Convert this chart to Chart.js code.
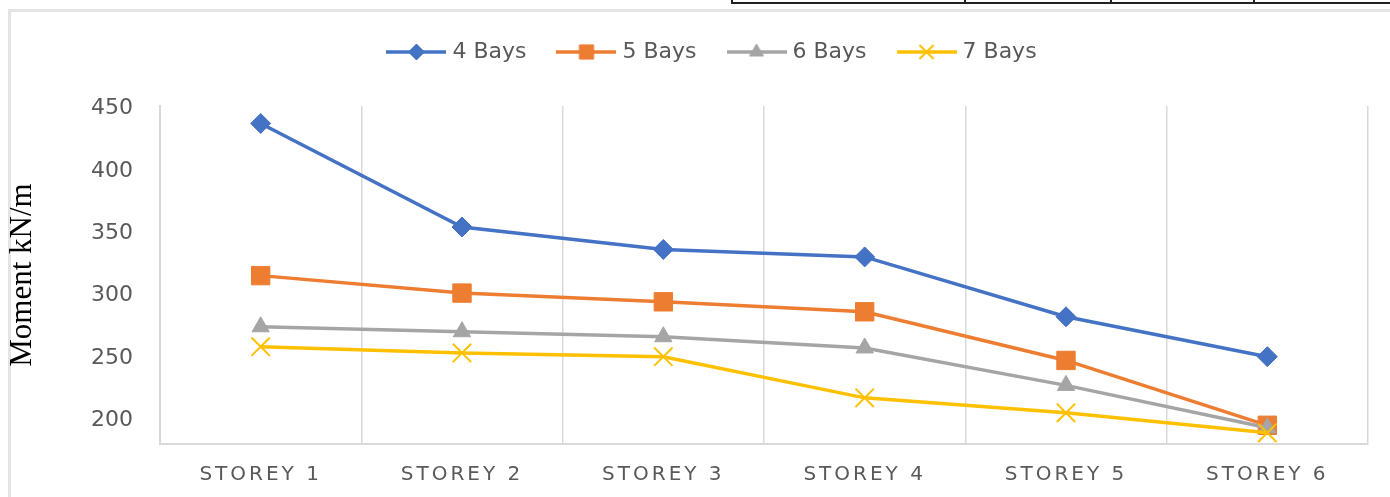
<!DOCTYPE html>
<html>
<head>
<meta charset="utf-8">
<script src="https://cdn.jsdelivr.net/npm/chart.js@4"></script>
<style>
  html, body { margin: 0; padding: 0; background: #fff; }
  #wrap { position: relative; width: 1390px; height: 497px; overflow: hidden; }
  #chartBox { position: absolute; left: 0; top: 0; width: 1390px; height: 497px; }
  .frameTop { position: absolute; left: 8px; top: 9px; width: 1382px; height: 3px; background: #e4e4e4; }
  .frameLeft { position: absolute; left: 8px; top: 9px; width: 3px; height: 488px; background: #e4e4e4; }
  .tableLine { position: absolute; left: 731px; top: 2px; width: 659px; height: 2px; background: #222; }
  .tableTick { position: absolute; top: 0; width: 2px; height: 4px; background: #222; }
</style>
</head>
<body>
<div id="wrap">
  <div class="tableLine"></div>
  <div class="tableTick" style="left:731px"></div>
  <div class="tableTick" style="left:964px"></div>
  <div class="tableTick" style="left:1110px"></div>
  <div class="tableTick" style="left:1253px"></div>
  <div class="frameTop"></div>
  <div class="frameLeft"></div>
  <div id="chartBox"><canvas id="momentChart"></canvas></div>
</div>
<script>
const storeys = ['STOREY 1', 'STOREY 2', 'STOREY 3', 'STOREY 4', 'STOREY 5', 'STOREY 6'];
const bays4 = [438, 355, 337, 331, 283, 251];
const bays5 = [316, 302, 295, 287, 248, 196];
const bays6 = [275, 271, 267, 258, 228, 194];
const bays7 = [259, 254, 251, 218, 206, 190];
const yTicks = [200, 250, 300, 350, 400, 450];

const TEXT = '#595959';
const GRID = '#d9d9d9';

const series = [
  { label: '4 Bays', data: bays4, color: '#4472C4', style: 'rectRot', radius: 10, legendRadius: 8, border: 1 },
  { label: '5 Bays', data: bays5, color: '#ED7D31', style: 'rect', radius: 13, legendRadius: 10, border: 1 },
  { label: '6 Bays', data: bays6, color: '#A5A5A5', style: 'triangle', radius: 10, legendRadius: 8, border: 1 },
  { label: '7 Bays', data: bays7, color: '#FFC000', style: 'crossRot', radius: 13, legendRadius: 10, border: 2 }
];

// legend swatch: short line with the marker in the middle
function makeIcon(s) {
  const c = document.createElement('canvas');
  c.width = 60;
  c.height = 24;
  const g = c.getContext('2d');
  g.strokeStyle = s.color;
  g.fillStyle = s.color;
  g.lineWidth = 3.5;
  g.beginPath();
  g.moveTo(0, 12);
  g.lineTo(60, 12);
  g.stroke();
  g.lineWidth = s.border;
  Chart.helpers.drawPoint(g, { pointStyle: s.style, radius: s.legendRadius, borderWidth: s.border, rotation: 0 }, 30, 12);
  return c;
}
const icons = series.map(makeIcon);

const legendBand = 100;

const spacingPlugin = {
  id: 'spacing',
  beforeLayout(chart) {
    const lg = chart.legend;
    if (lg && !lg._bandFit) {
      const fit = lg.fit.bind(lg);
      lg.fit = () => { fit(); lg.height = legendBand; };
      lg._bandFit = true;
    }
  },
  beforeDraw(chart) {
    const x = chart.scales.x;
    if (x && !x._spaced) {
      const draw = x.drawLabels.bind(x);
      x.drawLabels = (area) => {
        const ctx = x.ctx;
        ctx.save();
        ctx.letterSpacing = '3px';
        draw(area);
        ctx.restore();
      };
      x._spaced = true;
    }
  }
};

const ctx = document.getElementById('momentChart').getContext('2d');
new Chart(ctx, {
  type: 'line',
  data: {
    labels: storeys,
    datasets: series.map((s, i) => ({
      label: s.label,
      data: s.data,
      borderColor: s.color,
      backgroundColor: s.color,
      borderWidth: 3.5,
      pointStyle: s.style,
      pointRadius: s.radius,
      pointHoverRadius: s.radius,
      pointBorderWidth: s.border,
      pointBackgroundColor: s.color,
      pointBorderColor: s.color,
      tension: 0,
      fill: false,
      order: series.length - 1 - i
    }))
  },
  options: {
    responsive: true,
    maintainAspectRatio: false,
    animation: false,
    events: [],
    layout: { padding: { left: 60, right: 22, top: 6, bottom: 0 } },
    plugins: {
      tooltip: { enabled: false },
      legend: {
        position: 'top',
        labels: {
          usePointStyle: true,
          pointStyleWidth: 50,
          padding: 35,
          color: TEXT,
          font: { family: 'DejaVu Sans', size: 22 },
          generateLabels(chart) {
            const items = Chart.defaults.plugins.legend.labels.generateLabels(chart);
            items.sort((a, b) => a.datasetIndex - b.datasetIndex);
            items.forEach(it => { it.pointStyle = icons[it.datasetIndex]; });
            return items;
          }
        }
      }
    },
    scales: {
      x: {
        offset: true,
        grid: { display: true, offset: true, color: GRID, lineWidth: 1.5, drawTicks: false },
        border: { display: true, color: GRID, width: 2 },
        ticks: { color: TEXT, padding: 19, font: { family: 'DejaVu Sans', size: 20 }, maxRotation: 0 },
        afterFit(scale) { scale.height = 53; }
      },
      y: {
        min: 181,
        max: 452,
        grid: { display: false, drawTicks: false },
        border: { display: true, color: GRID, width: 2 },
        ticks: { color: TEXT, padding: 27, font: { family: 'DejaVu Sans', size: 22 } },
        afterBuildTicks(scale) { scale.ticks = yTicks.map(v => ({ value: v })); },
        title: {
          display: true,
          text: 'Moment kN/m',
          color: '#000',
          font: { family: 'Liberation Serif', size: 31 },
          padding: { top: -56, bottom: 0 }
        },
        afterFit(scale) { scale.width = 100; }
      }
    }
  },
  plugins: [spacingPlugin]
});
</script>
</body>
</html>
